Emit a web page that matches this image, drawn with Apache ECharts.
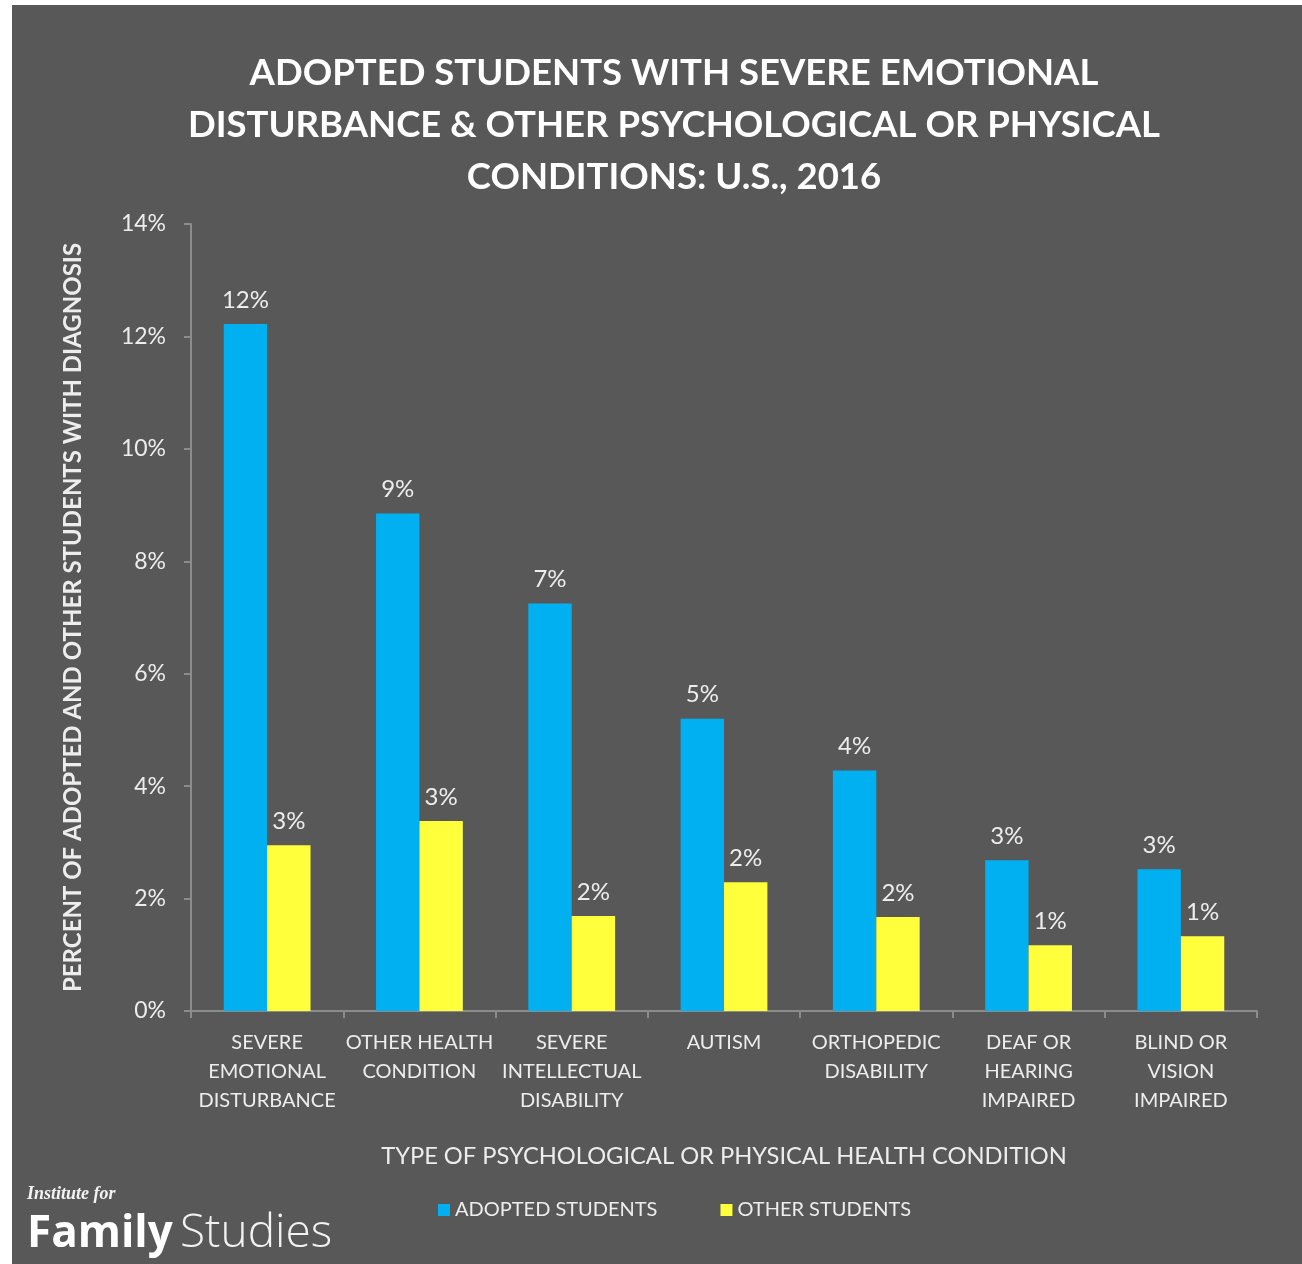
<!DOCTYPE html>
<html><head><meta charset="utf-8">
<script src="https://cdn.jsdelivr.net/npm/echarts@6/dist/echarts.min.js"></script>
<style>html,body{margin:0;padding:0;background:#fff;}#c{width:1302px;height:1264px;}</style>
</head><body><div id="c"></div>
<script>
const categories = ['SEVERE\nEMOTIONAL\nDISTURBANCE','OTHER HEALTH\nCONDITION','SEVERE\nINTELLECTUAL\nDISABILITY','AUTISM','ORTHOPEDIC\nDISABILITY','DEAF OR\nHEARING\nIMPAIRED','BLIND OR\nVISION\nIMPAIRED'];
const adopted = [12.22, 8.85, 7.25, 5.2, 4.28, 2.68, 2.52];
const other = [2.95, 3.38, 1.69, 2.29, 1.67, 1.17, 1.33];
const seriesNames = ['ADOPTED STUDENTS','OTHER STUDENTS'];
const yTicks = {min:0, max:14, interval:2};

const FONT = 'Lato';
const TXT = '#ededed';
const chart = echarts.init(document.getElementById('c'));
const lbl = {show:true, position:'top', distance:12, color:TXT, fontFamily:FONT, fontSize:24,
  formatter: p => Math.round(p.value) + '%'};
chart.setOption({
  backgroundColor:'#ffffff',
  animation:false,
  graphic:[
    {type:'rect', z:-10, shape:{x:12,y:5,width:1290,height:1259}, style:{fill:'#585858'}},
    {type:'text', left:27, top:1185, style:{text:'Institute for', fill:'#f2f2f2', font:'italic bold 18px "Liberation Serif", serif'}},
    {type:'text', left:27, top:1212, style:{text:'Family', fill:'#ffffff', font:'bold 44px "Open Sans", sans-serif'}},
    {type:'text', left:180, top:1211, style:{text:'Studies', fill:'#f2f2f2', font:'300 46px "Open Sans", sans-serif'}}
  ],
  title:{
    text:'ADOPTED STUDENTS WITH SEVERE EMOTIONAL\nDISTURBANCE & OTHER PSYCHOLOGICAL OR PHYSICAL\nCONDITIONS: U.S., 2016',
    left:669, top:42, textAlign:'center',
    textStyle:{color:'#ffffff', fontFamily:FONT, fontWeight:'bold', fontSize:36.5, lineHeight:52}
  },
  legend:{
    data:seriesNames, bottom:39, left:433, itemWidth:12, itemHeight:12, itemGap:63,
    icon:'rect', textStyle:{color:TXT, fontFamily:FONT, fontSize:20, padding:[0,0,0,0]}
  },
  grid:{left:191, right:45, top:224, bottom:253},
  xAxis:{
    type:'category', data:categories,
    axisLine:{lineStyle:{color:'#8c8c8c', width:2}},
    axisTick:{show:true, length:7, lineStyle:{color:'#8c8c8c', width:2}},
    axisLabel:{color:TXT, fontFamily:FONT, fontSize:20, lineHeight:29, margin:17, interval:0},
    name:'TYPE OF PSYCHOLOGICAL OR PHYSICAL HEALTH CONDITION',
    nameLocation:'middle', nameGap:133,
    nameTextStyle:{color:TXT, fontFamily:FONT, fontSize:23.7}
  },
  yAxis:{
    type:'value', min:yTicks.min, max:yTicks.max, interval:yTicks.interval,
    axisLine:{show:true, lineStyle:{color:'#8c8c8c', width:2}},
    axisTick:{show:true, length:7, lineStyle:{color:'#8c8c8c', width:2}},
    splitLine:{show:false},
    axisLabel:{color:TXT, fontFamily:FONT, fontSize:23, margin:25, formatter:v=>v+'%'},
    name:'PERCENT OF ADOPTED AND OTHER STUDENTS WITH DIAGNOSIS',
    nameLocation:'middle', nameGap:106,
    nameTextStyle:{color:TXT, fontFamily:FONT, fontWeight:'bold', fontSize:24}
  },
  series:[
    {name:seriesNames[0], type:'bar', data:adopted, barGap:'0%', barCategoryGap:'43%',
     itemStyle:{color:'#00b0f0'}, label:lbl},
    {name:seriesNames[1], type:'bar', data:other,
     itemStyle:{color:'#ffff3c'}, label:lbl}
  ]
});
</script></body></html>
